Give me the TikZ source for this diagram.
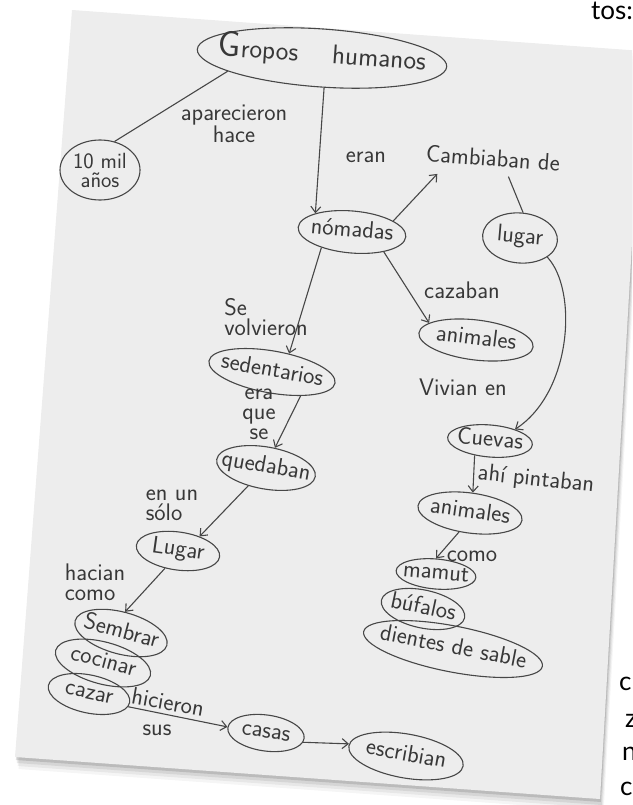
\documentclass[tikz,border=0pt]{standalone}
\usepackage{fontspec}
\newfontfamily\bookfont{Lato}
\usetikzlibrary{shapes.geometric,arrows.meta,calc}
\newcommand{\handfont}{\sffamily\fontsize{24}{20}\selectfont}
\newcommand{\cw}[1]{\makebox[0pt]{#1}}
\colorlet{colorInk}{black!78}
\colorlet{colorLine}{black!72}
\colorlet{colorPaper}{black!7}
\tikzset{
   every path/.style={>={Straight Barb[length=6pt,width=10pt]}},
   ell/.style={ellipse,draw=colorLine,line width=1.1pt,inner sep=0pt,text=colorInk,font=\handfont},
   con/.style={ell,text height=10pt,text depth=0pt},
   lnk/.style={text=colorInk,font=\handfont,inner sep=2pt},
   rel/.style={->,draw=colorLine,line width=1.1pt},
   ln/.style={-,draw=colorLine,line width=1.1pt},
   book/.style={text=black,font=\bookfont\fontsize{26}{26}\selectfont,inner sep=0pt},
}
\begin{document}
\begin{tikzpicture}[x=1pt,y=-1pt]
    \useasboundingbox (0,0) rectangle (632,805);
    \clip (0,0) rectangle (632,805);

    % sheet of paper
    \foreach \d/\op in {12/0.04,9/0.06,6/0.08,3/0.12}
        \fill[black,opacity=\op,shift={(0.3*\d,\d)}] (72,10) -- (643,51) -- (600,799) -- (15,757) -- cycle;
    \fill[colorPaper] (72,10) -- (643,51) -- (600,799) -- (15,757) -- cycle;

    \node[book,anchor=base east] (tos) at (633,20) {tos:};
    \node[book,anchor=base west] (fraga) at (619,690) {c};
    \node[book,anchor=base west] (fragb) at (625,727) {z};
    \node[book,anchor=base west] (fragc) at (622,760) {n};
    \node[book,anchor=base west] (fragd) at (620,795) {c};

    % concepts
    \node[con,minimum width=250pt,minimum height=58pt,rotate=-4] (grupos) at (322,58)
        {\cw{\fontsize{27}{27}\selectfont{\fontsize{36}{36}\selectfont G}ropos\hspace{34pt}humanos}};
    \node[ell,align=center,minimum width=80pt,minimum height=60pt,font=\sffamily\fontsize{22}{19}\selectfont] (diezmil) at (100,170) {10 mil\\años};
    \node[con,minimum width=108pt,minimum height=42pt,rotate=-5] (nomadas) at (352,232) {\cw{nómadas}};
    \node[con,minimum width=75pt,minimum height=50pt,rotate=-5] (lugar) at (520,238) {\cw{lugar}};
    \node[con,minimum width=115pt,minimum height=40pt,rotate=-7] (anima) at (476,340) {\cw{animales}};
    \node[con,minimum width=128pt,minimum height=42pt,rotate=-10] (sed) at (272,372) {\cw{sedentarios}};
    \node[con,minimum width=100pt,minimum height=42pt,rotate=-10] (qued) at (266,468) {\cw{quedaban}};
    \node[con,minimum width=85pt,minimum height=32pt,rotate=-5] (cuevas) at (490,441) {\cw{Cuevas}};
    \node[con,minimum width=105pt,minimum height=40pt,rotate=-8] (animb) at (470,513) {\cw{animales}};
    \node[con,minimum width=84pt,minimum height=38pt,rotate=-8] (lugarb) at (178,551) {\cw{Lugar}};
    \node[con,minimum width=80pt,minimum height=30pt,rotate=-5] (mamut) at (436,574) {\cw{mamut}};
    \node[con,minimum width=85pt,minimum height=38pt,rotate=-12] (bufalos) at (423,609) {\cw{búfalos}};
    \node[con,minimum width=182pt,minimum height=46pt,rotate=-11] (dientes) at (453,649) {\cw{dientes de sable}};
    \node[con,minimum width=95pt,minimum height=42pt,rotate=-15] (sembrar) at (121,633) {\cw{Sembrar}};
    \node[con,minimum width=98pt,minimum height=42pt,rotate=-15] (cocinar) at (103,663) {\cw{cocinar}};
    \node[con,minimum width=83pt,minimum height=38pt,rotate=-12] (cazar) at (89,694) {\cw{cazar}};
    \node[con,minimum width=77pt,minimum height=36pt,rotate=-8] (casas) at (266,733) {\cw{casas}};
    \node[con,minimum width=116pt,minimum height=44pt,rotate=-10] (escribian) at (406,756) {\cw{escribian}};

    % linking words
    \node[lnk,align=center] (aparecieron) at (234,124) {aparecieron\\hace};
    \node[lnk] (eran) at (366,157) {eran};
    \node[lnk,rotate=-4,inner sep=0pt] (cambiaban) at (493,158) {Cambiaban de};
    \node[lnk] (cazaban) at (462,290) {cazaban};
    \node[lnk,align=left] (volvieron) at (266,317) {Se\\volvieron};
    \node[lnk] (vivian) at (463,387) {Vivian en};
    \node[lnk,align=center] (eraque) at (259,414) {era\\que\\se};
    \node[lnk,rotate=-6] (ahi) at (536,480) {ahí pintaban};
    \node[lnk,align=left] (enun) at (172,505) {en un\\sólo};
    \node[lnk] (como) at (472,556) {como};
    \node[lnk,align=left] (hacian) at (95,582) {hacian\\como};
    \node[lnk,rotate=-10] (hicieron) at (168,702) {hicieron};
    \node[lnk] (sus) at (157,730) {sus};

    % connectors
    \draw[ln] (grupos.192) -- (diezmil.63);
    \draw[rel] (grupos.-82) -- (nomadas.158);
    \draw[rel] (nomadas.20) -- ($(cambiaban.south west)+(12,12)$);
    \draw[ln] ($(cambiaban.south)+(16,10)$) -- (lugar.88);
    \draw[rel] (nomadas.-27) -- (anima.167);
    \draw[rel] (nomadas.212) -- (sed.57);
    \draw[rel] (lugar.-30) .. controls (578,290) and (572,392) .. (cuevas.30);
    \draw[rel] (sed.-30) -- (qued.76);
    \draw[rel] (cuevas.228) -- (animb.90);
    \draw[rel] (qued.235) -- (lugarb.42);
    \draw[rel] (animb.248) -- (mamut.95);
    \draw[rel] (lugarb.241) -- (sembrar.94);
    \draw[rel] (cazar.-6) -- (casas.179);
    \draw[rel] (casas.-6) -- (escribian.178);

\end{tikzpicture}
\end{document}
